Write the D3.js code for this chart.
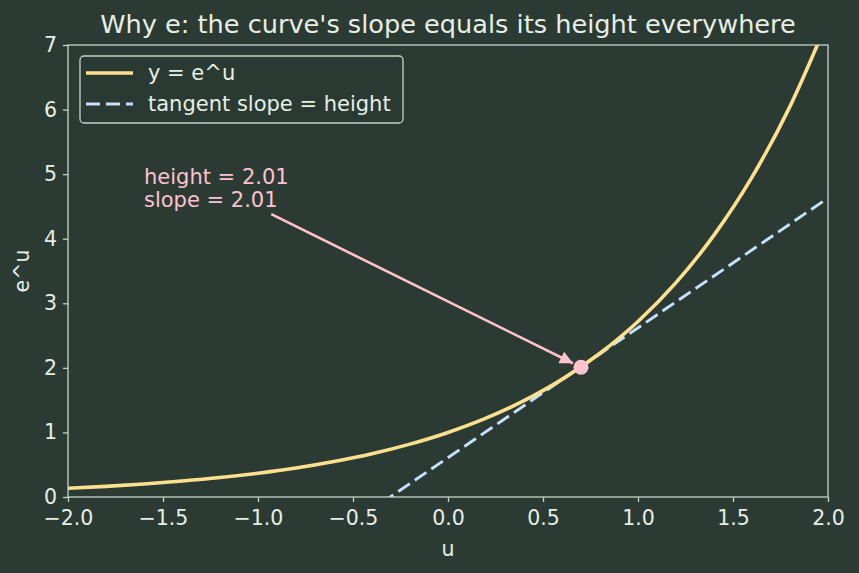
<!DOCTYPE html>
<html>
<head>
<meta charset="utf-8">
<script src="https://cdn.jsdelivr.net/npm/d3@7"></script>
<style>
  body { margin: 0; background: #2b3b33; }
  text { font-family: "DejaVu Sans", sans-serif; }
</style>
</head>
<body>
<svg id="chart"></svg>
<script>
// curve samples (u, e^u)
var curveU = [-2.0, -1.8, -1.6, -1.4, -1.2, -1.0, -0.8, -0.6, -0.4, -0.2, 0.0,
              0.2, 0.4, 0.6, 0.8, 1.0, 1.2, 1.4, 1.6, 1.8, 2.0];
var curveY = [0.135, 0.165, 0.202, 0.247, 0.301, 0.368, 0.449, 0.549, 0.670, 0.819, 1.0,
              1.221, 1.492, 1.822, 2.226, 2.718, 3.320, 4.055, 4.953, 6.050, 7.389];
// tangent line endpoints
var tangentU = [-2.0, 2.0];
var tangentY = [-3.41, 4.63];
// touching point
var pointU = 0.70, pointY = 2.01;
var annoU = -1.6, annoY = 4.5;
var annoLines = ['height = 2.01', 'slope = 2.01'];
var xTicks = [-2.0, -1.5, -1.0, -0.5, 0.0, 0.5, 1.0, 1.5, 2.0];
var yTicks = [0, 1, 2, 3, 4, 5, 6, 7];

var width = 859, height = 573;
var margin = {top: 45, right: 31, bottom: 76, left: 68};
var innerW = width - margin.left - margin.right;
var innerH = height - margin.top - margin.bottom;

var bg = '#2b3b33', fg = '#e6eee6', spine = '#c4d4c8';
var curveColor = '#ffe08f', tanColor = '#c4e2ff', pink = '#ffc2cf';
var fs = '20.5px', fsText = '21px';
var dash = '14,6';

var svg = d3.select('#chart')
  .attr('width', width)
  .attr('height', height);

svg.append('rect').attr('width', width).attr('height', height).attr('fill', bg);

var x = d3.scaleLinear().domain([-2, 2]).range([0, innerW]);
var y = d3.scaleLinear().domain([0, 7]).range([innerH, 0]);

var g = svg.append('g').attr('transform', 'translate(' + margin.left + ',' + margin.top + ')');

g.append('clipPath').attr('id', 'clip')
  .append('rect').attr('width', innerW).attr('height', innerH);

var plot = g.append('g').attr('clip-path', 'url(#clip)');

var curveData = curveU.map(function(u, i) { return [u, curveY[i]]; });
var tanData = tangentU.map(function(u, i) { return [u, tangentY[i]]; });

var line = d3.line()
  .x(function(d) { return x(d[0]); })
  .y(function(d) { return y(d[1]); });

plot.append('path')
  .datum(tanData)
  .attr('d', line)
  .attr('fill', 'none')
  .attr('stroke', tanColor)
  .attr('stroke-width', 2.9)
  .attr('stroke-dasharray', dash);

plot.append('path')
  .datum(curveData)
  .attr('d', line.curve(d3.curveMonotoneX))
  .attr('fill', 'none')
  .attr('stroke', curveColor)
  .attr('stroke-width', 3.6);

// axes
var xAxis = g.append('g')
  .attr('transform', 'translate(0,' + innerH + ')')
  .call(d3.axisBottom(x).tickValues(xTicks).tickSize(5).tickPadding(8)
    .tickFormat(function(d) { return d3.format('.1f')(d).replace('-', '\u2212'); }));
var yAxis = g.append('g')
  .call(d3.axisLeft(y).tickValues(yTicks).tickSize(5).tickPadding(6).tickFormat(d3.format('d')));

[xAxis, yAxis].forEach(function(a) {
  a.select('.domain').remove();
  a.selectAll('line').attr('stroke', spine).attr('stroke-width', 1.3);
  a.selectAll('text').attr('fill', fg).style('font-size', fs);
});

// spines
g.append('rect')
  .attr('width', innerW).attr('height', innerH)
  .attr('fill', 'none').attr('stroke', spine).attr('stroke-width', 1.3);

// annotation arrow
var defs = svg.append('defs');
defs.append('marker')
  .attr('id', 'arrow')
  .attr('viewBox', '0 0 10 10')
  .attr('refX', 10).attr('refY', 5)
  .attr('markerWidth', 5.5).attr('markerHeight', 5)
  .attr('markerUnits', 'strokeWidth')
  .attr('orient', 'auto')
  .append('path').attr('d', 'M0,0 L10,5 L0,10 z').attr('fill', pink);

var ax0 = x(-0.93), ay0 = y(4.38);
var px = x(pointU), py = y(pointY);
var ang = Math.atan2(py - ay0, px - ax0);
g.append('line')
  .attr('x1', ax0).attr('y1', ay0)
  .attr('x2', px - 9 * Math.cos(ang)).attr('y2', py - 9 * Math.sin(ang))
  .attr('stroke', pink).attr('stroke-width', 2.6)
  .attr('marker-end', 'url(#arrow)');

g.append('circle')
  .attr('cx', px).attr('cy', py).attr('r', 7.5)
  .attr('fill', pink);

var anno = g.append('text')
  .attr('x', x(annoU)).attr('y', y(annoY) - 22.5)
  .attr('fill', pink).style('font-size', fsText);
anno.selectAll('tspan').data(annoLines).enter().append('tspan')
  .attr('x', x(annoU))
  .attr('dy', function(d, i) { return i === 0 ? 0 : 23; })
  .text(function(d) { return d; });

// labels
svg.append('text')
  .attr('x', margin.left + innerW / 2).attr('y', 33)
  .attr('text-anchor', 'middle').attr('fill', fg)
  .style('font-size', '25.6px')
  .text("Why e: the curve's slope equals its height everywhere");

svg.append('text')
  .attr('x', margin.left + innerW / 2).attr('y', 556)
  .attr('text-anchor', 'middle').attr('fill', fg)
  .style('font-size', fs)
  .text('u');

svg.append('text')
  .attr('transform', 'translate(29,' + (margin.top + innerH / 2) + ') rotate(-90)')
  .attr('text-anchor', 'middle').attr('fill', fg)
  .style('font-size', fs)
  .text('e^u');

// legend
var leg = g.append('g').attr('transform', 'translate(12,11)');
leg.append('rect')
  .attr('width', 323).attr('height', 67).attr('rx', 4)
  .attr('fill', bg).attr('fill-opacity', 0.8)
  .attr('stroke', spine).attr('stroke-width', 1.3);
var items = [
  {label: 'y = e^u', color: curveColor, dash: null, w: 3.6},
  {label: 'tangent slope = height', color: tanColor, dash: dash, w: 2.9}
];
items.forEach(function(it, i) {
  var yy = 17 + i * 31;
  leg.append('line')
    .attr('x1', 6).attr('x2', 53).attr('y1', yy).attr('y2', yy)
    .attr('stroke', it.color).attr('stroke-width', it.w)
    .attr('stroke-dasharray', it.dash);
  leg.append('text')
    .attr('x', 68).attr('y', yy + 7)
    .attr('fill', fg).style('font-size', fsText)
    .text(it.label);
});
</script>
</body>
</html>
